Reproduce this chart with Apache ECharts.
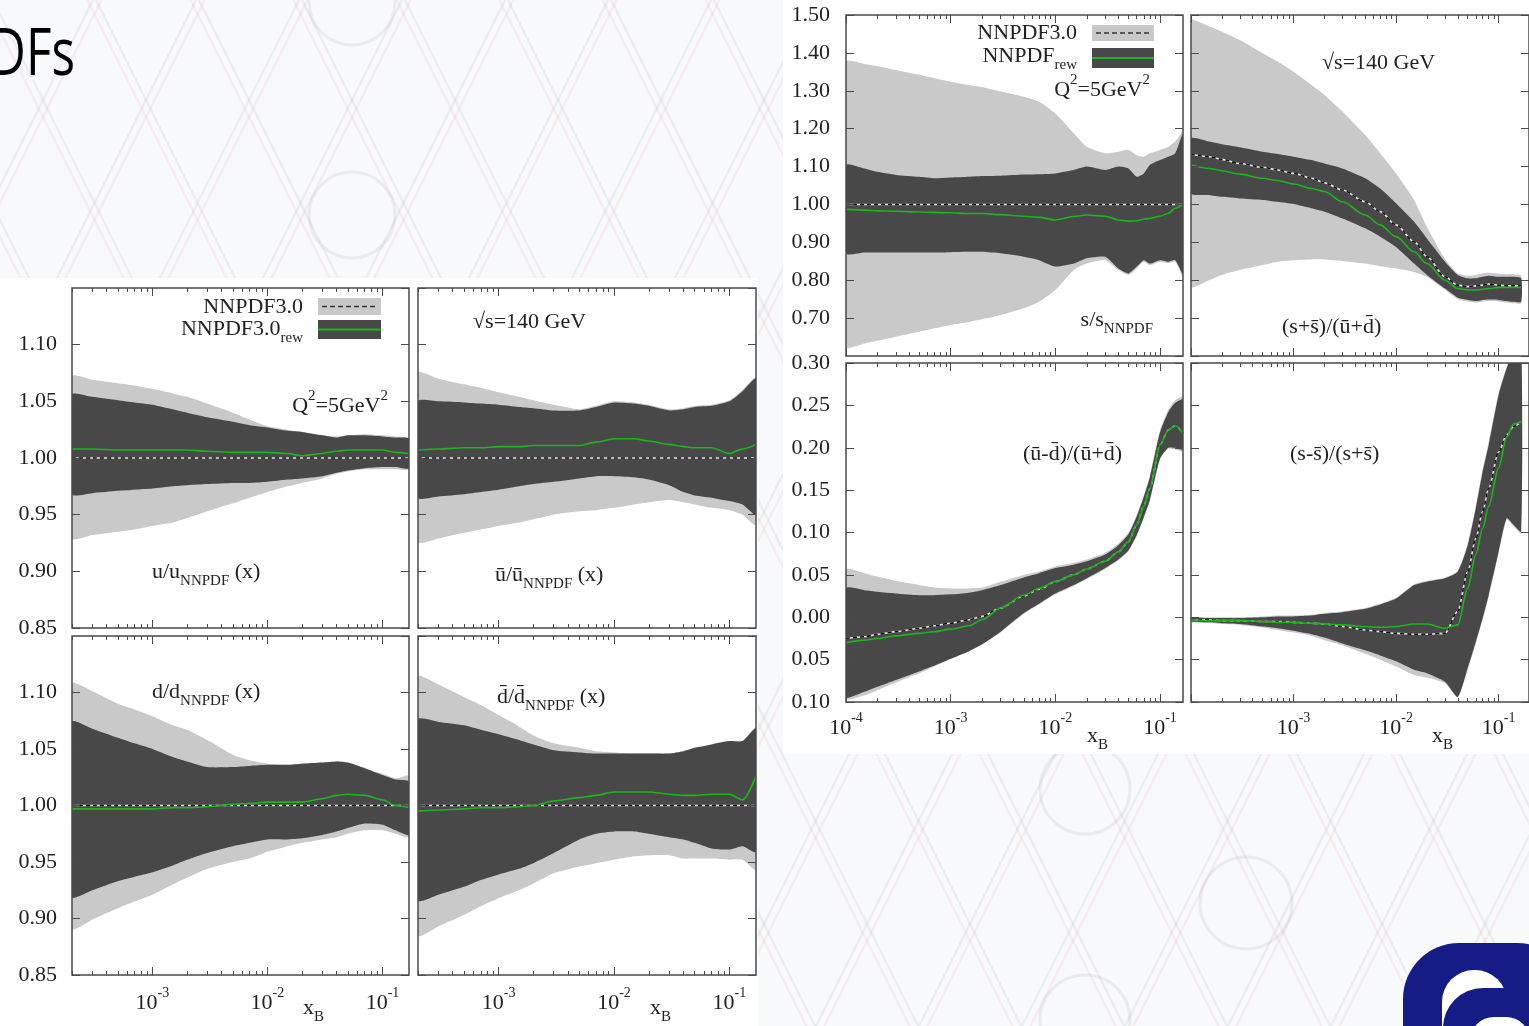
<!DOCTYPE html>
<html>
<head>
<meta charset="utf-8">
<script src="https://cdn.jsdelivr.net/npm/echarts@6/dist/echarts.min.js"></script>
<style>
  html, body { margin: 0; padding: 0; background: #f8f9fb; overflow: hidden; }
  #chart { width: 1529px; height: 1026px; }
</style>
</head>
<body>
<div id="chart"></div>
<script>
// ---------- sampling points in x_B ----------
const xLeft  = [2e-4, 3e-4, 5e-4, 7e-4, 1e-3, 1.5e-3, 2e-3, 3e-3, 5e-3, 7e-3, 1e-2, 1.5e-2, 2e-2, 3e-2, 4e-2, 5e-2, 7e-2, 0.1, 0.13, 0.17];
const xRight = [1e-4, 1.5e-4, 2e-4, 3e-4, 5e-4, 7e-4, 1e-3, 1.5e-3, 2e-3, 3e-3, 5e-3, 7e-3, 1e-2, 1.5e-2, 2e-2, 3e-2, 4e-2, 5e-2, 6e-2, 7e-2, 8e-2, 0.1, 0.12, 0.14, 0.166];

// ---------- u / u_NNPDF ----------
const uRefHi = [1.072,1.069,1.066,1.064,1.061,1.057,1.054,1.048,1.040,1.034,1.028,1.025,1.023,1.020,1.019,1.020,1.021,1.020,1.019,1.017];
const uRefLo = [0.929,0.932,0.935,0.937,0.940,0.943,0.947,0.953,0.960,0.965,0.970,0.975,0.978,0.982,0.986,0.988,0.990,0.990,0.990,0.990];
const uRewHi = [1.056,1.054,1.051,1.049,1.047,1.043,1.040,1.036,1.032,1.029,1.027,1.024,1.023,1.020,1.018,1.020,1.020,1.019,1.018,1.017];
const uRewLo = [0.968,0.969,0.971,0.972,0.973,0.975,0.976,0.977,0.978,0.978,0.979,0.981,0.982,0.984,0.987,0.989,0.991,0.992,0.992,0.991];
const uRef   = [1,1,1,1,1,1,1,1,1,1,1,1,1,1,1,1,1,1,1,1];
const uRew   = [1.008,1.008,1.007,1.007,1.007,1.007,1.007,1.006,1.005,1.005,1.005,1.004,1.002,1.004,1.006,1.007,1.007,1.007,1.005,1.004];

// ---------- ubar / ubar_NNPDF ----------
const ubRefHi = [1.075,1.070,1.065,1.062,1.058,1.054,1.051,1.047,1.043,1.046,1.050,1.049,1.047,1.043,1.044,1.046,1.047,1.051,1.060,1.071];
const ubRefLo = [0.926,0.929,0.934,0.937,0.940,0.943,0.946,0.950,0.953,0.954,0.956,0.959,0.961,0.963,0.961,0.959,0.956,0.954,0.950,0.941];
const ubRewHi = [1.050,1.050,1.049,1.048,1.047,1.045,1.044,1.042,1.042,1.045,1.049,1.048,1.046,1.042,1.043,1.045,1.046,1.050,1.059,1.070];
const ubRewLo = [0.965,0.966,0.968,0.970,0.972,0.975,0.977,0.979,0.982,0.984,0.984,0.983,0.981,0.976,0.970,0.967,0.965,0.962,0.959,0.950];
const ubRef   = [1,1,1,1,1,1,1,1,1,1,1,1,1,1,1,1,1,1,1,1];
const ubRew   = [1.007,1.008,1.009,1.009,1.010,1.010,1.011,1.011,1.011,1.014,1.017,1.017,1.015,1.012,1.010,1.009,1.009,1.004,1.008,1.012];

// ---------- d / d_NNPDF ----------
const dRefHi = [1.108,1.101,1.090,1.085,1.079,1.071,1.067,1.058,1.045,1.040,1.037,1.036,1.037,1.038,1.039,1.038,1.033,1.028,1.024,1.026];
const dRefLo = [0.891,0.899,0.909,0.915,0.921,0.930,0.936,0.944,0.950,0.953,0.959,0.964,0.967,0.970,0.972,0.975,0.978,0.978,0.975,0.972];
const dRewHi = [1.074,1.068,1.060,1.055,1.050,1.043,1.039,1.034,1.034,1.035,1.036,1.036,1.037,1.038,1.039,1.038,1.033,1.027,1.023,1.021];
const dRewLo = [0.919,0.925,0.933,0.937,0.941,0.947,0.952,0.958,0.964,0.967,0.970,0.970,0.971,0.974,0.977,0.980,0.984,0.983,0.978,0.974];
const dRef   = [1,1,1,1,1,1,1,1,1,1,1,1,1,1,1,1,1,1,1,1];
const dRew   = [0.997,0.997,0.997,0.997,0.997,0.998,0.998,0.999,1.001,1.002,1.003,1.003,1.003,1.006,1.009,1.010,1.009,1.005,1.000,0.998];

// ---------- dbar / dbar_NNPDF ----------
const dbRefHi = [1.114,1.107,1.096,1.089,1.080,1.070,1.062,1.055,1.051,1.048,1.047,1.046,1.046,1.046,1.048,1.051,1.054,1.057,1.057,1.069];
const dbRefLo = [0.885,0.893,0.903,0.911,0.918,0.925,0.931,0.940,0.946,0.949,0.952,0.955,0.956,0.956,0.953,0.953,0.953,0.952,0.952,0.943];
const dbRewHi = [1.076,1.074,1.071,1.067,1.063,1.058,1.054,1.049,1.047,1.046,1.046,1.046,1.046,1.046,1.048,1.051,1.054,1.057,1.057,1.068];
const dbRewLo = [0.916,0.921,0.928,0.934,0.939,0.944,0.949,0.958,0.970,0.975,0.977,0.977,0.975,0.972,0.970,0.967,0.962,0.961,0.964,0.959];
const dbRef   = [1,1,1,1,1,1,1,1,1,1,1,1,1,1,1,1,1,1,1,1];
const dbRew   = [0.995,0.996,0.997,0.998,0.998,0.999,1.000,1.004,1.007,1.009,1.012,1.012,1.012,1.010,1.009,1.009,1.010,1.010,1.005,1.026];

// ---------- s / s_NNPDF ----------
const sRefHi = [1.377,1.371,1.365,1.355,1.342,1.333,1.324,1.315,1.309,1.298,1.284,1.271,1.240,1.188,1.152,1.135,1.139,1.144,1.130,1.126,1.135,1.144,1.152,1.166,1.192];
const sRefLo = [0.624,0.633,0.640,0.651,0.664,0.673,0.682,0.690,0.697,0.708,0.726,0.743,0.774,0.827,0.844,0.853,0.827,0.814,0.831,0.849,0.840,0.849,0.845,0.849,0.809];
const sRewHi = [1.104,1.095,1.086,1.078,1.073,1.069,1.071,1.073,1.075,1.076,1.079,1.080,1.082,1.091,1.100,1.091,1.100,1.095,1.073,1.082,1.104,1.117,1.126,1.135,1.185];
const sRewLo = [0.871,0.873,0.873,0.873,0.873,0.873,0.874,0.875,0.875,0.871,0.862,0.853,0.836,0.844,0.858,0.862,0.831,0.818,0.836,0.853,0.844,0.853,0.849,0.853,0.818];
const sRef   = [1,1,1,1,1,1,1,1,1,1,1,1,1,1,1,1,1,1,1,1,1,1,1,1,1];
const sRew   = [0.987,0.985,0.983,0.982,0.980,0.979,0.978,0.976,0.976,0.973,0.969,0.966,0.959,0.968,0.972,0.969,0.959,0.956,0.957,0.961,0.963,0.969,0.976,0.990,1.001];

// ---------- (s+sbar)/(ubar+dbar) ----------
const rsRefHi = [1.485,1.470,1.456,1.434,1.399,1.377,1.350,1.315,1.289,1.245,1.183,1.135,1.082,1.012,0.941,0.856,0.818,0.812,0.814,0.818,0.820,0.818,0.816,0.816,0.812];
const rsRefLo = [0.783,0.800,0.814,0.827,0.840,0.849,0.853,0.855,0.855,0.851,0.844,0.837,0.831,0.822,0.809,0.775,0.750,0.744,0.741,0.743,0.745,0.744,0.741,0.739,0.739];
const rsRewHi = [1.174,1.166,1.159,1.151,1.139,1.133,1.126,1.117,1.108,1.095,1.069,1.042,1.003,0.954,0.910,0.849,0.814,0.805,0.805,0.809,0.812,0.809,0.809,0.809,0.805];
const rsRewLo = [1.029,1.025,1.020,1.016,1.012,1.007,1.001,0.990,0.981,0.963,0.937,0.915,0.888,0.844,0.814,0.778,0.754,0.748,0.745,0.748,0.749,0.748,0.745,0.743,0.743];
const rsRef   = [1.133,1.126,1.119,1.108,1.098,1.091,1.082,1.069,1.057,1.038,1.007,0.981,0.946,0.902,0.862,0.809,0.787,0.783,0.785,0.787,0.790,0.787,0.785,0.785,0.785];
const rsRew   = [1.104,1.095,1.089,1.080,1.069,1.063,1.054,1.042,1.034,1.007,0.972,0.946,0.915,0.875,0.844,0.800,0.778,0.774,0.774,0.776,0.778,0.781,0.781,0.781,0.781];

// ---------- (ubar-dbar)/(ubar+dbar) ----------
const adRefHi = [0.056,0.052,0.048,0.043,0.038,0.035,0.034,0.034,0.035,0.042,0.050,0.054,0.060,0.064,0.068,0.076,0.087,0.100,0.121,0.144,0.167,0.220,0.245,0.256,0.260];
const adRefLo = [-0.096,-0.092,-0.086,-0.077,-0.066,-0.058,-0.049,-0.040,-0.032,-0.018,0.004,0.015,0.027,0.037,0.045,0.057,0.067,0.078,0.096,0.117,0.137,0.186,0.199,0.198,0.196];
const adRewHi = [0.034,0.032,0.030,0.028,0.026,0.026,0.027,0.029,0.032,0.038,0.047,0.052,0.058,0.062,0.066,0.074,0.085,0.098,0.119,0.142,0.165,0.218,0.242,0.253,0.257];
const adRewLo = [-0.094,-0.088,-0.082,-0.074,-0.064,-0.057,-0.049,-0.040,-0.032,-0.017,0.005,0.016,0.028,0.038,0.046,0.058,0.068,0.079,0.097,0.118,0.138,0.187,0.200,0.200,0.198];
const adRef   = [-0.025,-0.023,-0.020,-0.017,-0.013,-0.010,-0.007,-0.003,0.001,0.011,0.025,0.033,0.042,0.050,0.057,0.066,0.077,0.089,0.109,0.131,0.152,0.203,0.221,0.226,0.217];
const adRew   = [-0.030,-0.027,-0.025,-0.022,-0.019,-0.017,-0.014,-0.010,-0.003,0.011,0.026,0.034,0.042,0.050,0.057,0.066,0.077,0.089,0.109,0.131,0.152,0.203,0.221,0.226,0.217];

// ---------- (s-sbar)/(s+sbar) ----------
const ssRefHi = [0.000,0.000,0.000,0.000,0.001,0.002,0.002,0.003,0.005,0.007,0.011,0.016,0.023,0.039,0.043,0.047,0.055,0.087,0.131,0.175,0.207,0.265,0.296,0.315,0.323];
const ssRefLo = [-0.006,-0.007,-0.008,-0.009,-0.012,-0.015,-0.018,-0.022,-0.027,-0.033,-0.043,-0.050,-0.058,-0.068,-0.071,-0.078,-0.094,-0.062,-0.031,-0.003,0.024,0.075,0.115,0.107,0.099];
const ssRewHi = [-0.001,-0.001,-0.001,-0.001,0.000,0.001,0.001,0.002,0.004,0.006,0.010,0.015,0.022,0.038,0.042,0.046,0.054,0.085,0.129,0.172,0.203,0.262,0.294,0.313,0.321];
const ssRewLo = [-0.005,-0.006,-0.007,-0.008,-0.011,-0.013,-0.016,-0.020,-0.024,-0.031,-0.039,-0.045,-0.052,-0.062,-0.066,-0.076,-0.094,-0.060,-0.029,-0.001,0.026,0.077,0.117,0.109,0.101];
const ssRef   = [-0.003,-0.003,-0.004,-0.004,-0.005,-0.005,-0.006,-0.007,-0.008,-0.011,-0.015,-0.017,-0.019,-0.020,-0.020,-0.019,0.007,0.054,0.093,0.125,0.152,0.195,0.215,0.225,0.231];
const ssRew   = [-0.003,-0.004,-0.004,-0.004,-0.005,-0.006,-0.006,-0.007,-0.008,-0.009,-0.011,-0.012,-0.011,-0.008,-0.008,-0.013,-0.009,0.034,0.074,0.105,0.131,0.176,0.213,0.228,0.231];

// ---------- tick values ----------
const majorX = [1e-4, 1e-3, 1e-2, 1e-1];
const labelXLeftEdge = [1e-3, 1e-2, 1e-1];   // no 10^-4 label where it would collide with the neighbour panel
const minorX = [];
majorX.forEach(d => { for (let m = 2; m <= 9; m++) minorX.push(+(m * d).toPrecision(3)); });

// ---------- styling ----------
const SERIF = '"Liberation Serif", "DejaVu Serif", serif';
const INK = '#222';
const FRAME = '#4a4a4a';
const LIGHT = '#c9c9c9';
const DARK = '#484848';
const GREEN = '#1db41d';

// panel layout: box = [left, top, width, height]
const PANELS = [
  { box: [72, 288, 337, 340],   xr: [2e-4, 0.17],  xs: xLeft,  yr: [0.85, 1.15, 0.05], yLab: 'noMax', xLab: null, m: 11,
    d: [uRefLo, uRefHi, uRewLo, uRewHi, uRef, uRew] },
  { box: [418, 288, 338, 340],  xr: [2e-4, 0.17],  xs: xLeft,  yr: [0.85, 1.15, 0.05], yLab: null,    xLab: null, m: 11,
    d: [ubRefLo, ubRefHi, ubRewLo, ubRewHi, ubRef, ubRew] },
  { box: [72, 636, 337, 339],   xr: [2e-4, 0.17],  xs: xLeft,  yr: [0.85, 1.15, 0.05], yLab: 'noMax', xLab: majorX, m: 11,
    d: [dRefLo, dRefHi, dRewLo, dRewHi, dRef, dRew] },
  { box: [418, 636, 338, 339],  xr: [2e-4, 0.17],  xs: xLeft,  yr: [0.85, 1.15, 0.05], yLab: null,    xLab: majorX, m: 11,
    d: [dbRefLo, dbRefHi, dbRewLo, dbRewHi, dbRef, dbRew] },
  { box: [846, 15, 337, 341],   xr: [1e-4, 0.166], xs: xRight, yr: [0.6, 1.5, 0.1],    yLab: 'noMin', xLab: null, m: 9,
    d: [sRefLo, sRefHi, sRewLo, sRewHi, sRef, sRew] },
  { box: [1191, 15, 345, 341],  xr: [1e-4, 0.198], xs: xRight, yr: [0.6, 1.5, 0.1],    yLab: null,    xLab: null, m: 9,
    d: [rsRefLo, rsRefHi, rsRewLo, rsRewHi, rsRef, rsRew] },
  { box: [846, 363, 337, 339],  xr: [1e-4, 0.166], xs: xRight, yr: [-0.1, 0.3, 0.05],  yLab: 'all',   xLab: majorX, m: 9,
    d: [adRefLo, adRefHi, adRewLo, adRewHi, adRef, adRew] },
  { box: [1191, 363, 345, 339], xr: [1e-4, 0.198], xs: xRight, yr: [-0.1, 0.3, 0.05],  yLab: null,    xLab: labelXLeftEdge, m: 9,
    d: [ssRefLo, ssRefHi, ssRewLo, ssRewHi, ssRef, ssRew] }
];

const grids = [], xAxes = [], yAxes = [], series = [];

// filled band between two curves, drawn through the axis scales
function bandSeries(xi, yi, xs, lo, hi, color) {
  return {
    type: 'custom', xAxisIndex: xi, yAxisIndex: yi, silent: true, clip: true, z: 2,
    data: [[xs[0], lo[0]]],
    renderItem: (params, api) => {
      const top = xs.map((x, j) => api.coord([x, hi[j]]));
      const bottom = xs.map((x, j) => api.coord([x, lo[j]])).reverse();
      return { type: 'polygon', shape: { points: top.concat(bottom), smooth: 0.2 },
               style: { fill: color, stroke: null } };
    }
  };
}

PANELS.forEach((p, i) => {
  grids.push({ left: p.box[0], top: p.box[1], width: p.box[2], height: p.box[3], show: true,
               borderColor: FRAME, borderWidth: 1.5, backgroundColor: 'transparent', z: 3 });

  const baseX = { type: 'log', logBase: 10, gridIndex: i, min: p.xr[0], max: p.xr[1], z: 3,
                  axisLine: { show: false, onZero: false }, splitLine: { show: false }, axisLabel: { show: false } };
  const tickMajor = { show: true, inside: true, length: 8, customValues: majorX, lineStyle: { color: FRAME, width: 1 } };
  const tickMinor = { show: true, inside: true, length: 4, customValues: minorX, lineStyle: { color: FRAME, width: 1 } };
  xAxes.push(Object.assign({}, baseX, {
    position: 'bottom', axisTick: tickMajor,
    axisLabel: {
      show: !!p.xLab, customValues: p.xLab || majorX, margin: p.m,
      formatter: v => '{b|10}{e|' + Math.round(Math.log10(v)) + '}',
      rich: {
        b: { fontFamily: SERIF, fontSize: 22, color: INK, lineHeight: 34, verticalAlign: 'middle' },
        e: { fontFamily: SERIF, fontSize: 14, color: INK, lineHeight: 20, verticalAlign: 'top' }
      }
    }
  }));
  xAxes.push(Object.assign({}, baseX, { position: 'bottom', axisTick: tickMinor }));
  xAxes.push(Object.assign({}, baseX, { position: 'top', axisTick: tickMajor }));
  xAxes.push(Object.assign({}, baseX, { position: 'top', axisTick: tickMinor }));

  const baseY = { type: 'value', gridIndex: i, min: p.yr[0], max: p.yr[1], interval: p.yr[2], z: 3,
                  axisLine: { show: false, onZero: false }, splitLine: { show: false },
                  axisTick: { show: true, inside: true, length: 8, lineStyle: { color: FRAME, width: 1 } } };
  yAxes.push(Object.assign({}, baseY, {
    position: 'left',
    axisLabel: {
      show: !!p.yLab, margin: p.box[0] < 500 ? 15 : 16,
      fontFamily: SERIF, fontSize: 22, color: INK,
      showMaxLabel: p.yLab !== 'noMax', showMinLabel: p.yLab !== 'noMin',
      formatter: v => Math.abs(v).toFixed(2)
    }
  }));
  yAxes.push(Object.assign({}, baseY, { position: 'right', axisLabel: { show: false } }));

  const xi = i * 4, yi = i * 2;
  const [refLo, refHi, rewLo, rewHi, ref, rew] = p.d;
  const pts = arr => p.xs.map((x, j) => [x, arr[j]]);
  const line = { type: 'line', xAxisIndex: xi, yAxisIndex: yi, symbol: 'none', silent: true,
                 smooth: 0.3, smoothMonotone: 'x', z: 2 };
  series.push(bandSeries(xi, yi, p.xs, refLo, refHi, LIGHT));   // NNPDF3.0 band
  series.push(bandSeries(xi, yi, p.xs, rewLo, rewHi, DARK));    // reweighted band
  // NNPDF3.0 central: light under-stroke + black dashes
  series.push(Object.assign({}, line, { data: pts(ref), lineStyle: { color: '#e4e4e4', width: 1.6 } }));
  series.push(Object.assign({}, line, { data: pts(ref), lineStyle: { color: '#111', width: 1.6, type: [4, 3] } }));
  // reweighted central
  series.push(Object.assign({}, line, { data: pts(rew), lineStyle: { color: GREEN, width: 1.6 } }));
});

// ---------- text and decorations ----------
const RICH = {
  m: { font: '22px ' + SERIF, lineHeight: 34, verticalAlign: 'middle', fill: INK },
  s: { font: '15px ' + SERIF, lineHeight: 15, verticalAlign: 'bottom', fill: INK },
  p: { font: '15px ' + SERIF, lineHeight: 18, verticalAlign: 'top', fill: INK }
};
function txt(x, y, text, align) {
  return { type: 'text', x: x, y: y, z: 10, silent: true,
           style: { text: text, rich: RICH, font: '22px ' + SERIF, fill: INK,
                    align: align || 'left', textAlign: align || 'left',
                    verticalAlign: 'middle', textVerticalAlign: 'middle' } };
}
function swatch(x, y, w, h, fill, lineColor, dashed, lw) {
  return [
    { type: 'rect', z: 10, silent: true, shape: { x: x, y: y, width: w, height: h }, style: { fill: fill } },
    { type: 'line', z: 11, silent: true,
      shape: { x1: x + (dashed ? 4 : 0), y1: y + h / 2, x2: x + w - (dashed ? 3 : 0), y2: y + h / 2 },
      style: { stroke: lineColor, lineWidth: lw, lineDash: dashed ? [5, 3] : null } }
  ];
}

const deco = [];
// faint slide backdrop: diamond lattice and rings
for (let k = -12; k <= 26; k++) {
  const x0 = 43 + 103 * k;
  [[0, 'rgba(165,170,180,0.15)'], [17, 'rgba(225,150,150,0.12)']].forEach(([dy, col]) => {
    const y0 = 100 + dy;
    deco.push({ type: 'line', z: 0, silent: true,
      shape: { x1: x0 - y0 / 2, y1: 0, x2: x0 + (1026 - y0) / 2, y2: 1026 }, style: { stroke: col, lineWidth: 2.5 } });
    deco.push({ type: 'line', z: 0, silent: true,
      shape: { x1: x0 + y0 / 2, y1: 0, x2: x0 - (1026 - y0) / 2, y2: 1026 }, style: { stroke: col, lineWidth: 2.5 } });
  });
}
[[352, 2, 43], [352, 215, 43], [1085, 789, 45], [1246, 903, 46], [1085, 1020, 45]].forEach(c => {
  deco.push({ type: 'circle', z: 0, silent: true, shape: { cx: c[0], cy: c[1], r: c[2] },
              style: { fill: 'none', stroke: 'rgba(170,172,180,0.18)', lineWidth: 3 } });
});
// white chart cards
deco.push({ type: 'rect', z: 1, silent: true, shape: { x: 0, y: 278, width: 758, height: 748 }, style: { fill: '#fff' } });
deco.push({ type: 'rect', z: 1, silent: true, shape: { x: 783, y: 0, width: 746, height: 754 }, style: { fill: '#fff' } });

// slide title
deco.push({ type: 'text', x: 75, y: 56, scaleX: 0.76, z: 10, silent: true,
            style: { text: 'PDFs', font: '500 65px "Open Sans", "Noto Sans", sans-serif', fill: '#000',
                     align: 'right', textAlign: 'right', verticalAlign: 'middle', textVerticalAlign: 'middle' } });

// logo mark
const NAVY = '#161c86';
deco.push({ type: 'rect', z: 10, silent: true, shape: { x: 1403, y: 943, width: 170, height: 100, r: [56, 56, 0, 0] }, style: { fill: NAVY } });
deco.push({ type: 'rect', z: 11, silent: true, shape: { x: 1442, y: 970, width: 65, height: 70, r: [32, 32, 0, 0] }, style: { fill: '#fff' } });
deco.push({ type: 'rect', z: 12, silent: true, shape: { x: 1443, y: 988, width: 100, height: 60, r: [40, 40, 0, 0] }, style: { fill: NAVY } });
deco.push({ type: 'rect', z: 13, silent: true, shape: { x: 1470, y: 1017, width: 60, height: 30, r: [24, 24, 0, 0] }, style: { fill: '#fff' } });

const labels = [
  // left block
  txt(303, 307, '{m|NNPDF3.0}', 'right'),
  txt(303, 329, '{m|NNPDF3.0}{s|rew}', 'right'),
  ...swatch(318, 298, 63, 17, LIGHT, '#333', true, 1.5),
  ...swatch(318, 320, 63, 19, DARK, GREEN, false, 2.2),
  txt(388, 406, '{m|Q}{p|2}{m|=5GeV}{p|2}', 'right'),
  txt(152, 572, '{m|u/u}{s|NNPDF}{m| (x)}'),
  txt(473, 322, '{m|√s=140 GeV}'),
  txt(495, 575, '{m|ū/ū}{s|NNPDF}{m| (x)}'),
  txt(152, 692, '{m|d/d}{s|NNPDF}{m| (x)}'),
  txt(497, 697, '{m|d̄/d̄}{s|NNPDF}{m| (x)}'),
  txt(303, 1008, '{m|x}{s|B}'),
  txt(650, 1008, '{m|x}{s|B}'),
  // right block
  txt(1077, 33, '{m|NNPDF3.0}', 'right'),
  txt(1077, 56, '{m|NNPDF}{s|rew}', 'right'),
  ...swatch(1092, 25, 62, 16, LIGHT, '#333', true, 1.5),
  ...swatch(1092, 48, 62, 20, DARK, GREEN, false, 2.2),
  txt(1150, 90, '{m|Q}{p|2}{m|=5GeV}{p|2}', 'right'),
  txt(1153, 320, '{m|s/s}{s|NNPDF}', 'right'),
  txt(1322, 63, '{m|√s=140 GeV}'),
  txt(1282, 327, '{m|(s+s̄)/(ū+d̄)}'),
  txt(1023, 454, '{m|(ū-d̄)/(ū+d̄)}'),
  txt(1290, 454, '{m|(s-s̄)/(s+s̄)}'),
  txt(1087, 736, '{m|x}{s|B}'),
  txt(1432, 736, '{m|x}{s|B}')
];

const chart = echarts.init(document.getElementById('chart'), null, { renderer: 'canvas' });
chart.setOption({
  animation: false,
  backgroundColor: '#f8f9fb',
  grid: grids,
  xAxis: xAxes,
  yAxis: yAxes,
  series: series,
  graphic: { elements: deco.concat(labels) }
});
</script>
</body>
</html>
